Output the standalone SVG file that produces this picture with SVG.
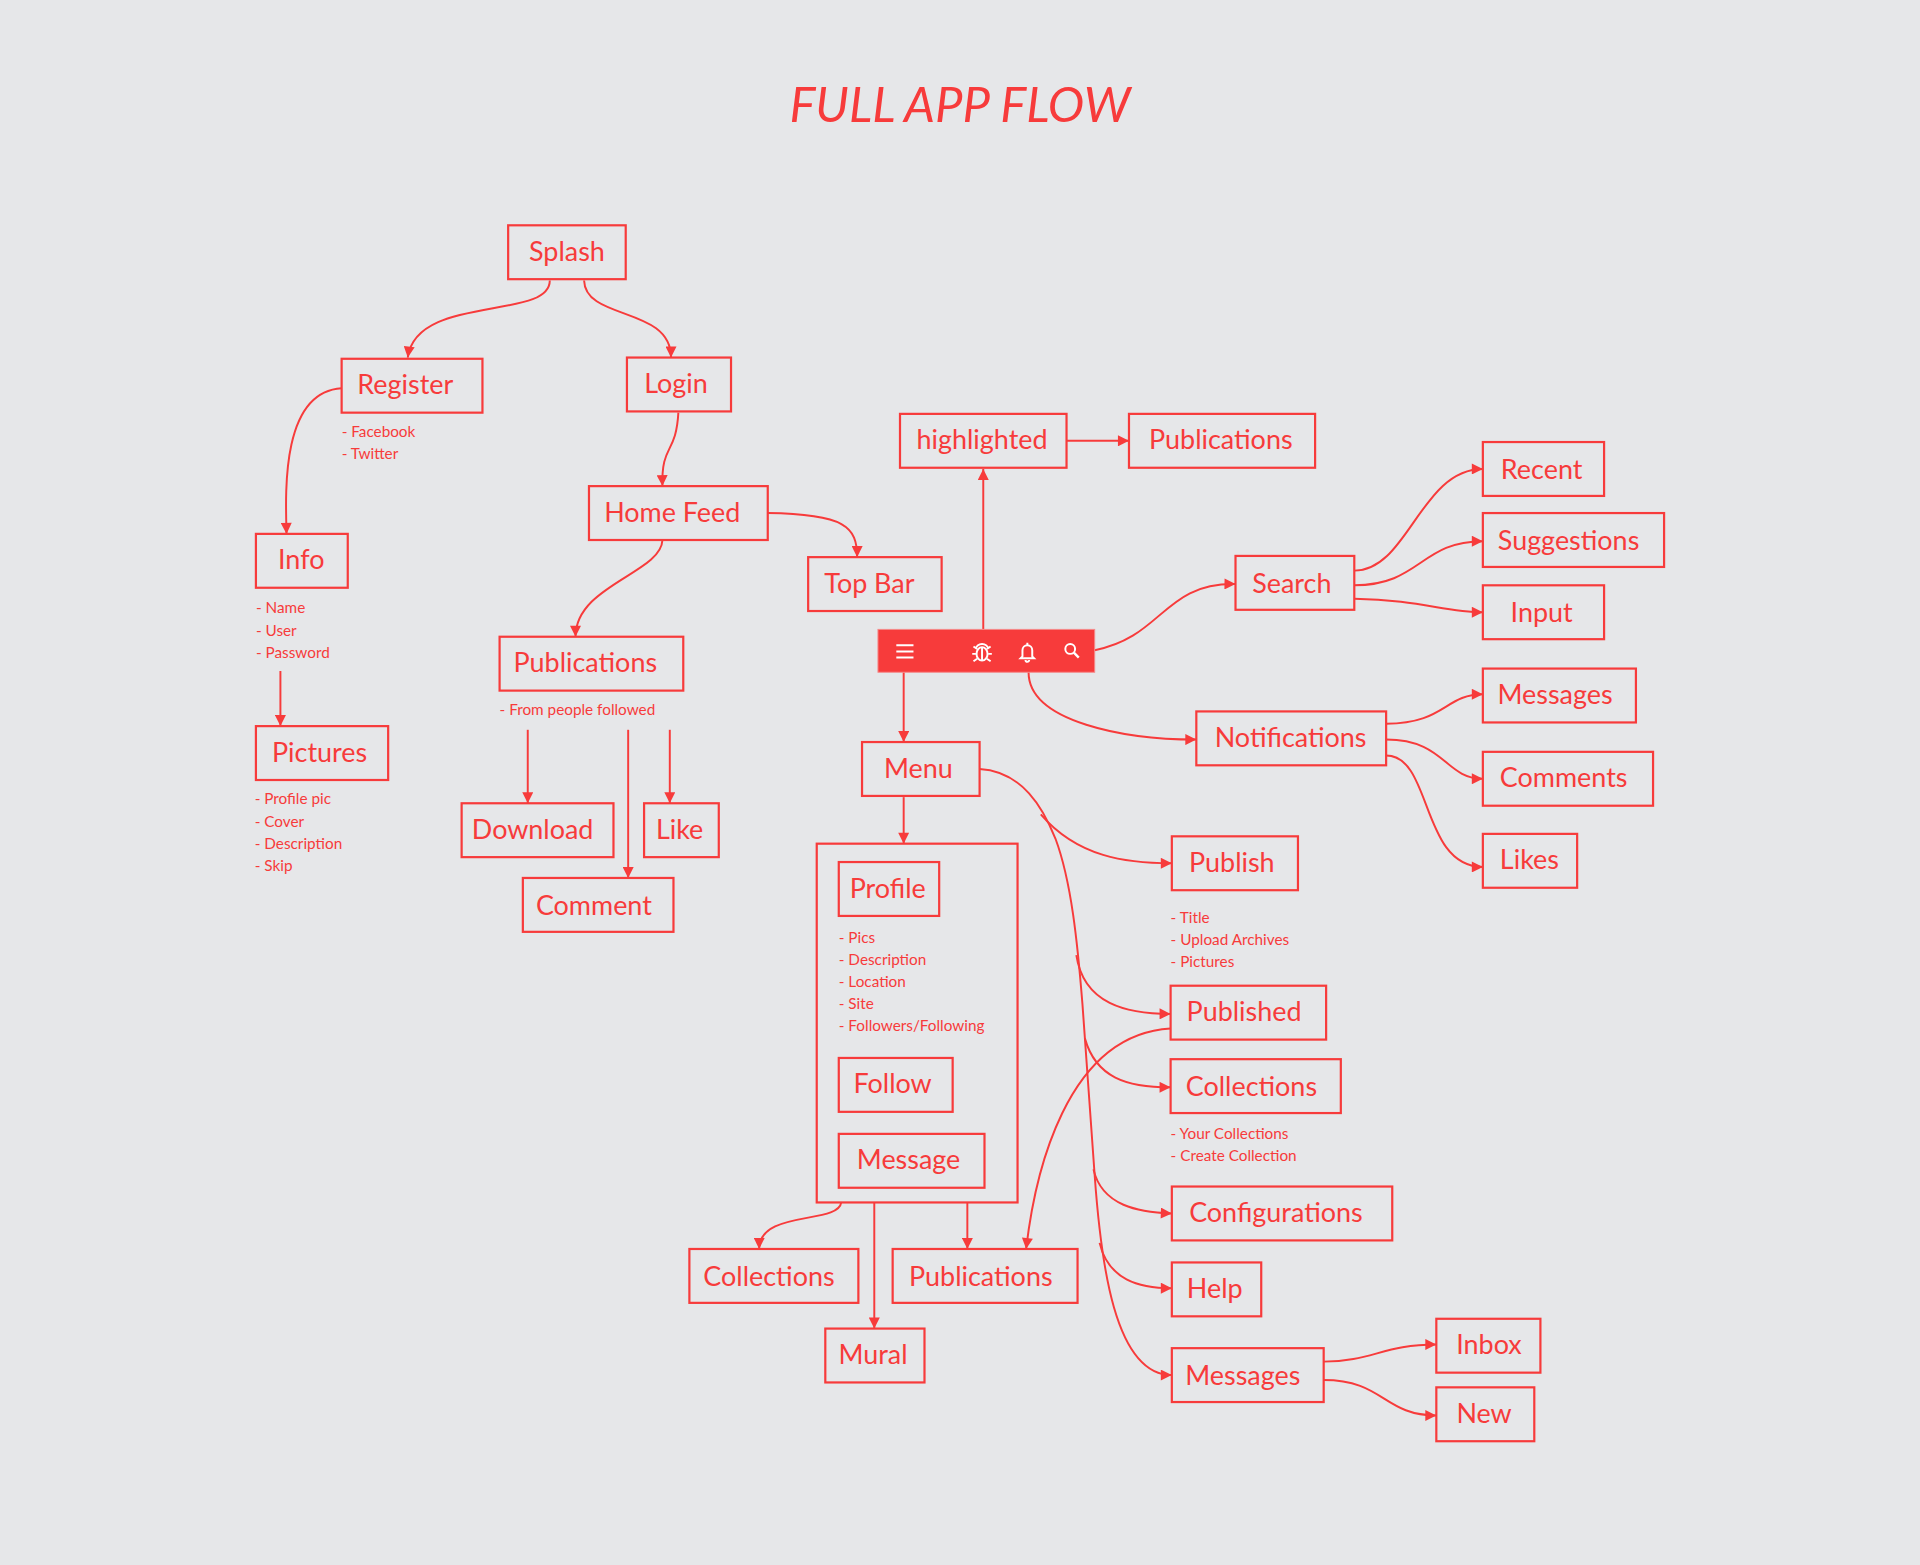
<svg xmlns="http://www.w3.org/2000/svg" width="1920" height="1565" viewBox="0 0 1920 1565">
<defs>
<marker id="ah" viewBox="0 0 10 10" refX="10" refY="5" markerWidth="10" markerHeight="9" markerUnits="userSpaceOnUse" orient="auto"><path d="M0,0 L10,5 L0,10 z" fill="#f73b3b"/></marker>
<style>
.b{fill:none;stroke:#f73b3b;stroke-width:1.8}
.t{font-family:Lato,"Open Sans",sans-serif;font-size:22px;fill:#f73b3b;text-anchor:middle}
.n{font-family:Lato,"Open Sans",sans-serif;font-size:12.5px;fill:#f73b3b}
.c path,.c line{fill:none;stroke:#f73b3b;stroke-width:1.6;marker-end:url(#ah)}
.i{fill:none;stroke:#fff;stroke-width:1.6}
</style>
</defs>
<rect width="1920" height="1565" fill="#e6e7e9"/>
<g transform="scale(1.22449)">
<text x="784" y="100" font-family="Lato,'Open Sans',sans-serif" font-size="40" font-style="italic" fill="#f73b3b" text-anchor="middle">FULL APP FLOW</text>
<g class="c">
<path d="M449,229 C449,262 340,240 333,292"/>
<path d="M477,229 C478,262 548,250 548,292"/>
<path d="M279,317 C230,320 233,400 234,436"/>
<line x1="229" y1="548" x2="229" y2="593"/>
<path d="M554,337 C552,372 540,362 541,397"/>
<path d="M627,419 C690,420 700,430 700,455"/>
<path d="M541,441 C540,468 470,478 470,520"/>
<line x1="431" y1="596" x2="431" y2="656"/>
<line x1="513" y1="596" x2="513" y2="717"/>
<line x1="547" y1="596" x2="547" y2="656"/>
<line x1="803" y1="514" x2="803" y2="383"/>
<line x1="871" y1="360" x2="922" y2="360"/>
<path d="M894,531 C950,520 950,476 1009,477"/>
<path d="M1106,466 C1150,466 1160,383 1211,383"/>
<path d="M1106,478 C1160,478 1160,442 1211,442"/>
<path d="M1106,489 C1160,490 1180,500 1211,500"/>
<path d="M840,549 C840,590 920,604 977,604"/>
<path d="M1132,591 C1180,591 1180,567 1211,567"/>
<path d="M1132,604 C1180,604 1180,636 1211,636"/>
<path d="M1132,617 C1170,617 1160,708 1211,708"/>
<line x1="738" y1="549" x2="738" y2="606"/>
<line x1="738" y1="651" x2="738" y2="689"/>
<path d="M800,628 C835,630 852,660 862,685 C875,720 880,770 884,820 L894,960 C899,1030 910,1123 957,1123"/>
<path d="M850,665 C880,700 920,705 957,705" />
<path d="M879,780 C885,820 920,828 956,828"/>
<path d="M886,848 C895,880 920,888 956,888"/>
<path d="M893,955 C900,985 930,990 957,991"/>
<path d="M898,1015 C905,1045 930,1052 957,1052"/>
<path d="M956,840 C870,845 845,960 838,1020"/>
<path d="M1081,1112 C1120,1112 1130,1098 1173,1098"/>
<path d="M1081,1127 C1130,1127 1130,1156 1173,1156"/>
<path d="M687,982 C685,1000 620,988 620,1020"/>
<line x1="714" y1="982" x2="714" y2="1085"/>
<line x1="790" y1="982" x2="790" y2="1020"/>
</g>
<g id="splash"><rect class="b" x="415" y="184" width="96" height="44"/><text class="t" x="463" y="213">Splash</text></g>
<g id="register"><rect class="b" x="279" y="293" width="115" height="44"/><text class="t" x="331" y="322">Register</text><text class="n" x="279" y="357">- Facebook</text><text class="n" x="279" y="375">- Twitter</text></g>
<g id="login"><rect class="b" x="512" y="292" width="85" height="44"/><text class="t" x="552" y="321">Login</text></g>
<g id="info"><rect class="b" x="209" y="436" width="75" height="44"/><text class="t" x="246" y="465">Info</text><text class="n" x="209" y="501">- Name</text><text class="n" x="209" y="519">- User</text><text class="n" x="209" y="537">- Password</text></g>
<g id="pictures"><rect class="b" x="209" y="593" width="108" height="44"/><text class="t" x="261" y="622">Pictures</text><text class="n" x="208" y="657">- Profile pic</text><text class="n" x="208" y="675">- Cover</text><text class="n" x="208" y="693">- Description</text><text class="n" x="208" y="711">- Skip</text></g>
<g id="homefeed"><rect class="b" x="481" y="397" width="146" height="44"/><text class="t" x="549" y="426">Home Feed</text></g>
<g id="topbar"><rect class="b" x="660" y="455" width="109" height="44"/><text class="t" x="710" y="484">Top Bar</text></g>
<g id="publications-feed"><rect class="b" x="408" y="520" width="150" height="44"/><text class="t" x="478" y="549">Publications</text><text class="n" x="408" y="584">- From people followed</text></g>
<g id="download"><rect class="b" x="377" y="656" width="124" height="44"/><text class="t" x="435" y="685">Download</text></g>
<g id="like"><rect class="b" x="526" y="656" width="61" height="44"/><text class="t" x="555" y="685">Like</text></g>
<g id="comment"><rect class="b" x="427" y="717" width="123" height="44"/><text class="t" x="485" y="747">Comment</text></g>
<g id="highlighted"><rect class="b" x="735" y="338" width="136" height="44"/><text class="t" x="802" y="367">highlighted</text></g>
<g id="publications-top"><rect class="b" x="922" y="338" width="152" height="44"/><text class="t" x="997" y="367">Publications</text></g>
<g id="search"><rect class="b" x="1009" y="454" width="97" height="44"/><text class="t" x="1055" y="484">Search</text></g>
<g id="recent"><rect class="b" x="1211" y="361" width="99" height="44"/><text class="t" x="1259" y="391">Recent</text></g>
<g id="suggestions"><rect class="b" x="1211" y="419" width="148" height="44"/><text class="t" x="1281" y="449">Suggestions</text></g>
<g id="input"><rect class="b" x="1211" y="478" width="99" height="44"/><text class="t" x="1259" y="508">Input</text></g>
<g id="bar"><rect x="717" y="514" width="177" height="35" fill="#f73b3b" stroke="#f58a8a" stroke-width="0.8"/>
<path class="i" d="M732,527 h14 M732,532 h14 M732,537 h14"/>
<g class="i"><ellipse cx="802" cy="534" rx="4.5" ry="5.5"/><path d="M797,530 a5,4 0 0 1 10,0 M802,529 v10 M795,528 l3,2 M809,528 l-3,2 M794,534 h3 M807,534 h3 M795,540 l3,-2 M809,540 l-3,-2"/></g>
<path class="i" d="M835,536 v-5 a4,4 0 0 1 8,0 v5 l1.5,1.5 h-11 z M837.5,539 a1.5,1.5 0 0 0 3,0 M839,525 v1.5"/>
<g class="i"><circle cx="874" cy="530" r="4"/><path d="M877,533 l4,4" stroke-width="2"/></g>
</g>
<g id="notifications"><rect class="b" x="977" y="581" width="155" height="44"/><text class="t" x="1054" y="610">Notifications</text></g>
<g id="messages-notif"><rect class="b" x="1211" y="546" width="125" height="44"/><text class="t" x="1270" y="575">Messages</text></g>
<g id="comments"><rect class="b" x="1211" y="614" width="139" height="44"/><text class="t" x="1277" y="643">Comments</text></g>
<g id="likes"><rect class="b" x="1211" y="681" width="77" height="44"/><text class="t" x="1249" y="710">Likes</text></g>
<g id="menu"><rect class="b" x="704" y="606" width="96" height="44"/><text class="t" x="750" y="635">Menu</text></g>
<g id="profile-group"><rect class="b" x="667" y="689" width="164" height="293"/></g>
<g id="profile"><rect class="b" x="685" y="704" width="82" height="44"/><text class="t" x="725" y="733">Profile</text><text class="n" x="685" y="770">- Pics</text><text class="n" x="685" y="788">- Description</text><text class="n" x="685" y="806">- Location</text><text class="n" x="685" y="824">- Site</text><text class="n" x="685" y="842">- Followers/Following</text></g>
<g id="follow"><rect class="b" x="685" y="864" width="93" height="44"/><text class="t" x="729" y="893">Follow</text></g>
<g id="message"><rect class="b" x="685" y="926" width="119" height="44"/><text class="t" x="742" y="955">Message</text></g>
<g id="publish"><rect class="b" x="957" y="683" width="103" height="44"/><text class="t" x="1006" y="712">Publish</text><text class="n" x="956" y="754">- Title</text><text class="n" x="956" y="772">- Upload Archives</text><text class="n" x="956" y="790">- Pictures</text></g>
<g id="published"><rect class="b" x="956" y="805" width="127" height="44"/><text class="t" x="1016" y="834">Published</text></g>
<g id="collections-r"><rect class="b" x="956" y="865" width="139" height="44"/><text class="t" x="1022" y="895">Collections</text><text class="n" x="956" y="930">- Your Collections</text><text class="n" x="956" y="948">- Create Collection</text></g>
<g id="configurations"><rect class="b" x="957" y="969" width="180" height="44"/><text class="t" x="1042" y="998">Configurations</text></g>
<g id="help"><rect class="b" x="957" y="1031" width="73" height="44"/><text class="t" x="992" y="1060">Help</text></g>
<g id="messages"><rect class="b" x="957" y="1101" width="124" height="44"/><text class="t" x="1015" y="1131">Messages</text></g>
<g id="inbox"><rect class="b" x="1173" y="1077" width="85" height="44"/><text class="t" x="1216" y="1106">Inbox</text></g>
<g id="new"><rect class="b" x="1173" y="1133" width="80" height="44"/><text class="t" x="1212" y="1162">New</text></g>
<g id="collections-b"><rect class="b" x="563" y="1020" width="138" height="44"/><text class="t" x="628" y="1050">Collections</text></g>
<g id="publications-b"><rect class="b" x="729" y="1020" width="151" height="44"/><text class="t" x="801" y="1050">Publications</text></g>
<g id="mural"><rect class="b" x="674" y="1085" width="81" height="44"/><text class="t" x="713" y="1114">Mural</text></g>
</g>
</svg>
